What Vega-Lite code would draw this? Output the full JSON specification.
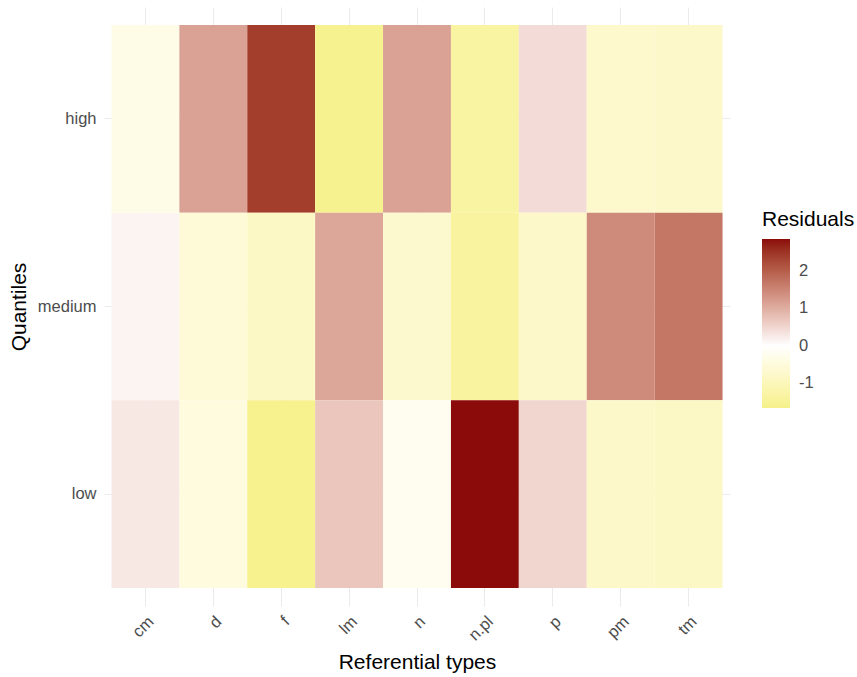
{
  "$schema": "https://vega.github.io/schema/vega-lite/v6.json",
  "width": 626,
  "height": 599,
  "autosize": {"type": "none"},
  "padding": {"left": 104, "top": 7, "right": 127, "bottom": 71},
  "background": "white",
  "config": {
    "view": {"stroke": null},
    "font": "Liberation Sans",
    "axis": {
      "domain": false,
      "ticks": false,
      "grid": true,
      "zindex": 0,
      "gridColor": "#EBEBEB",
      "gridWidth": 1.1,
      "labelColor": "#4D4D4D",
      "labelFontSize": 16.5,
      "labelFont": "Liberation Sans",
      "titleFont": "Liberation Sans",
      "titleFontSize": 21,
      "titleFontWeight": "normal",
      "titleColor": "#000000"
    }
  },
  "data": {
    "values": [
      {"type": "cm", "quantile": "high", "residual": -0.35},
      {"type": "d", "quantile": "high", "residual": 1.15},
      {"type": "f", "quantile": "high", "residual": 2.4},
      {"type": "lm", "quantile": "high", "residual": -1.6},
      {"type": "n", "quantile": "high", "residual": 1.15},
      {"type": "n.pl", "quantile": "high", "residual": -1.36},
      {"type": "p", "quantile": "high", "residual": 0.42},
      {"type": "pm", "quantile": "high", "residual": -0.74},
      {"type": "tm", "quantile": "high", "residual": -0.77},
      {"type": "cm", "quantile": "medium", "residual": 0.13},
      {"type": "d", "quantile": "medium", "residual": -0.57},
      {"type": "f", "quantile": "medium", "residual": -0.83},
      {"type": "lm", "quantile": "medium", "residual": 1.1},
      {"type": "n", "quantile": "medium", "residual": -0.71},
      {"type": "n.pl", "quantile": "medium", "residual": -1.38},
      {"type": "p", "quantile": "medium", "residual": -0.77},
      {"type": "pm", "quantile": "medium", "residual": 1.45},
      {"type": "tm", "quantile": "medium", "residual": 1.7},
      {"type": "cm", "quantile": "low", "residual": 0.28},
      {"type": "d", "quantile": "low", "residual": -0.48},
      {"type": "f", "quantile": "low", "residual": -1.62},
      {"type": "lm", "quantile": "low", "residual": 0.7},
      {"type": "n", "quantile": "low", "residual": -0.22},
      {"type": "n.pl", "quantile": "low", "residual": 2.87},
      {"type": "p", "quantile": "low", "residual": 0.5},
      {"type": "pm", "quantile": "low", "residual": -0.77},
      {"type": "tm", "quantile": "low", "residual": -0.83}
    ]
  },
  "mark": {"type": "rect", "opacity": 1, "zindex": 1},
  "encoding": {
    "x": {
      "field": "type",
      "type": "nominal",
      "sort": ["cm", "d", "f", "lm", "n", "n.pl", "p", "pm", "tm"],
      "scale": {"paddingInner": 0, "paddingOuter": 0.11},
      "axis": {
        "title": "Referential types",
        "labelAngle": -45,
        "labelAlign": "right",
        "labelBaseline": "top",
        "labelPadding": 7,
        "titlePadding": 8
      }
    },
    "y": {
      "field": "quantile",
      "type": "nominal",
      "sort": ["high", "medium", "low"],
      "scale": {"paddingInner": 0, "paddingOuter": 0.096},
      "axis": {
        "title": "Quantiles",
        "labelPadding": 8,
        "titlePadding": 8
      }
    },
    "color": {
      "field": "residual",
      "type": "quantitative",
      "scale": {
        "domain": [-1.68, 0, 2.87],
        "range": ["#F6F18A", "#FFFFFF", "#8B0A0A"],
        "interpolate": "lab"
      },
      "legend": {
        "title": "Residuals",
        "orient": "none",
        "legendX": 658,
        "legendY": 202,
        "direction": "vertical",
        "gradientLength": 169,
        "gradientThickness": 28,
        "gradientStrokeWidth": 0,
        "values": [-1, 0, 1, 2],
        "labelExpr": "datum.value < 0 ? '-' + abs(datum.value) : datum.label",
        "labelFontSize": 16.5,
        "labelColor": "#4D4D4D",
        "labelFont": "Liberation Sans",
        "labelOffset": 9,
        "titleFontSize": 21,
        "titleFontWeight": "normal",
        "titleFont": "Liberation Sans",
        "titleColor": "#000000",
        "titlePadding": 9
      }
    }
  }
}
